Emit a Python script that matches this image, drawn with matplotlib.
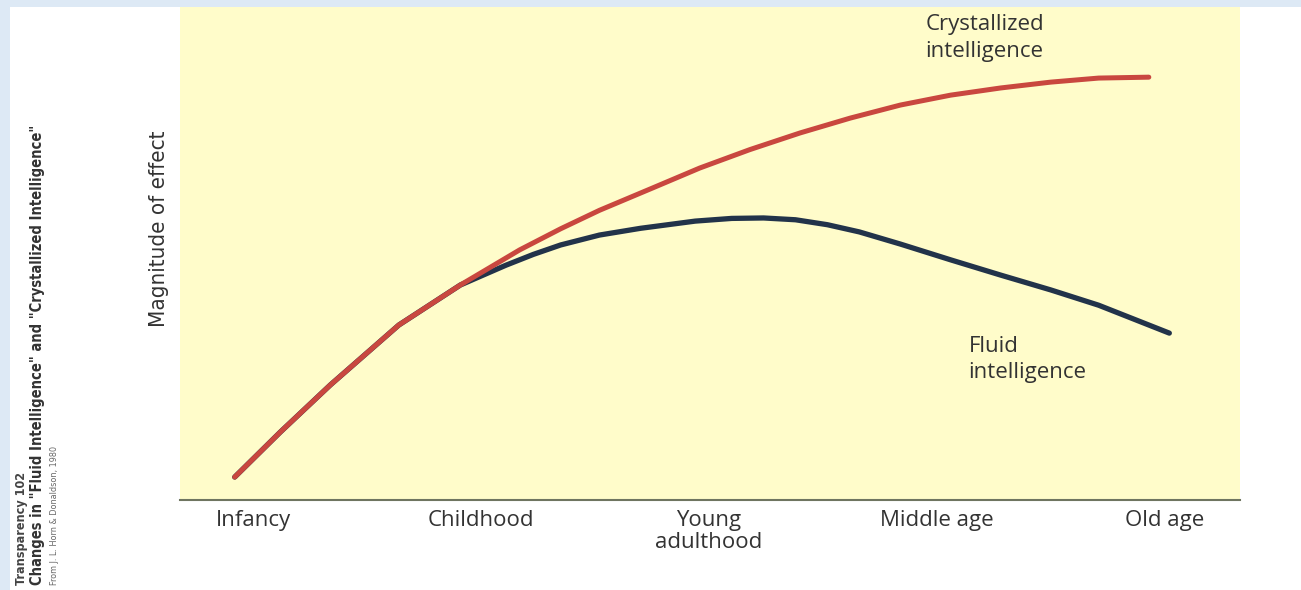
import matplotlib.pyplot as plt
from matplotlib.patches import Rectangle

# Categorías del eje x
stages = ['Infancy', 'Childhood', 'Young\nadulthood', 'Middle age', 'Old age']

# Curvas (x en unidades de etapa, y en magnitud)
cryst_x = [-0.08, 0.12, 0.34, 0.64, 0.91, 1.17, 1.35, 1.52, 1.75, 1.96, 2.18, 2.40, 2.62,
           2.84, 3.06, 3.28, 3.50, 3.71, 3.93]
cryst_y = [5.1, 15.1, 25.6, 38.9, 47.8, 55.6, 60.3, 64.4, 69.3, 73.8, 77.9, 81.6, 84.9,
           87.8, 90.0, 91.6, 92.9, 93.8, 94.0]

fluid_x = [-0.08, 0.12, 0.34, 0.64, 0.91, 1.11, 1.23, 1.35, 1.52, 1.70, 1.94, 2.10, 2.24,
           2.38, 2.52, 2.66, 2.84, 3.06, 3.28, 3.50, 3.71, 4.02]
fluid_y = [5.1, 15.1, 25.6, 38.9, 47.8, 52.2, 54.6, 56.7, 58.9, 60.4, 62.0, 62.6, 62.7,
           62.3, 61.2, 59.6, 56.9, 53.4, 50.0, 46.7, 43.3, 37.1]

fig = plt.figure(figsize=(13.01, 5.90), dpi=100)
fig.patch.set_facecolor('white')

# Marco azul claro de la diapositiva
fig.patches.append(Rectangle((0, 1 - 7 / 590), 1, 7 / 590, transform=fig.transFigure,
                             facecolor='#dde9f5', edgecolor='none'))
fig.patches.append(Rectangle((0, 0), 10 / 1301, 1, transform=fig.transFigure,
                             facecolor='#dde9f5', edgecolor='none'))

ax = fig.add_axes([180 / 1301, 90 / 590, 1060 / 1301, 493 / 590])
ax.set_facecolor('#fffcca')
ax.set_xlim(-0.32, 4.33)
ax.set_ylim(0, 109.6)

ax.plot(fluid_x, fluid_y, color='#22334a', linewidth=3.8, solid_capstyle='round')
ax.plot(cryst_x, cryst_y, color='#c9473f', linewidth=3.6, solid_capstyle='round')

narrow = ['Liberation Sans Narrow', 'DejaVu Sans']

# Etiquetas de las curvas
ax.text(2.95, 108, 'Crystallized\nintelligence', fontsize=16, color='#333333',
        ha='left', va='top', linespacing=1.35, family='Open Sans')
ax.text(3.14, 36.5, 'Fluid\nintelligence', fontsize=16, color='#333333',
        ha='left', va='top', linespacing=1.3, family='Open Sans')

ax.set_xticks(range(len(stages)))
ax.set_xticklabels(stages, fontsize=16, color='#333333', family='Open Sans',
                   linespacing=1.05)
ax.tick_params(axis='x', length=0, pad=7)
ax.set_yticks([])

for side in ['top', 'right', 'left']:
    ax.spines[side].set_visible(False)
ax.spines['bottom'].set_color('#6f7560')
ax.spines['bottom'].set_linewidth(1.5)

ax.set_ylabel('Magnitude of effect', fontsize=16, color='#333333',
              family=narrow, fontstretch='condensed')
ax.yaxis.set_label_coords(-0.01, 0.55)

# Texto lateral de la transparencia
fig.text(22 / 1301, 5 / 590, 'Transparency 102', rotation=90, fontsize=9,
         fontweight='bold', color='#444444', ha='center', va='bottom',
         family=narrow, fontstretch='condensed')
fig.text(38 / 1301, 5 / 590, 'Changes in "Fluid Intelligence" and "Crystallized Intelligence"',
         rotation=90, fontsize=10.5, fontweight='bold', color='#333333', ha='center',
         va='bottom', family=narrow, fontstretch='condensed')
fig.text(55 / 1301, 5 / 590, 'From J. L. Horn & Donaldson, 1980', rotation=90, fontsize=6.5,
         color='#666666', ha='center', va='bottom', family=narrow, fontstretch='condensed')

plt.savefig('out.png', dpi=100)
